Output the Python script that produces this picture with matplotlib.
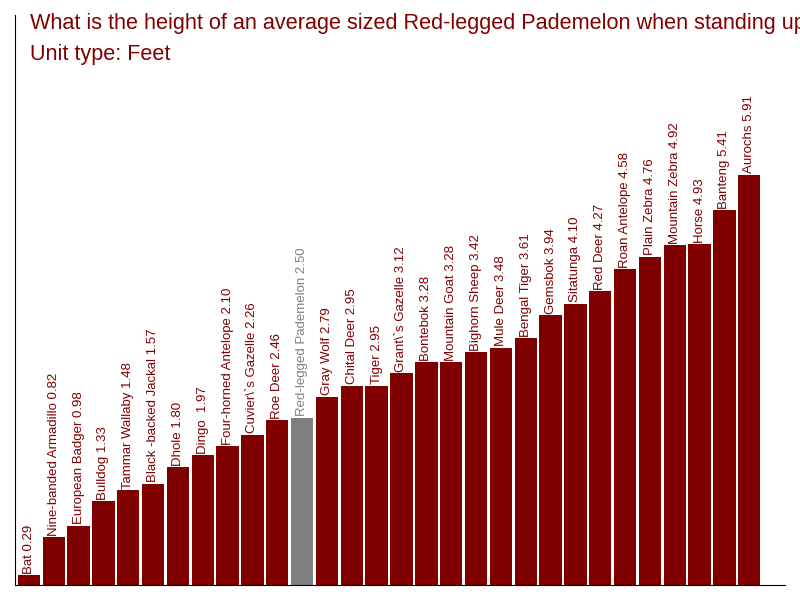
import matplotlib
matplotlib.use("Agg")
import matplotlib.pyplot as plt

plt.rcParams['font.family'] = ['Liberation Sans', 'DejaVu Sans']

animals = ["Bat", "Nine-banded Armadillo", "European Badger", "Bulldog", "Tammar Wallaby",
           "Black -backed Jackal", "Dhole", "Dingo ", "Four-horned Antelope", "Cuvier\\`s Gazelle",
           "Roe Deer", "Red-legged Pademelon", "Gray Wolf", "Chital Deer", "Tiger",
           "Grant\\`s Gazelle", "Bontebok", "Mountain Goat", "Bighorn Sheep", "Mule Deer",
           "Bengal Tiger", "Gemsbok", "Sitatunga", "Red Deer", "Roan Antelope",
           "Plain Zebra", "Mountain Zebra", "Horse", "Banteng", "Aurochs"]
heights = [0.29, 0.82, 0.98, 1.33, 1.48, 1.57, 1.80, 1.97, 2.10, 2.26,
           2.46, 2.50, 2.79, 2.95, 2.95, 3.12, 3.28, 3.28, 3.42, 3.48,
           3.61, 3.94, 4.10, 4.27, 4.58, 4.76, 4.92, 4.93, 5.41, 5.91]
highlight = "Red-legged Pademelon"

maroon = "#800000"
grey = "#808080"

fig = plt.figure(figsize=(8, 6), dpi=100)
ax = fig.add_axes([15/800, 15/600, 770/800, 570/600])

x = list(range(len(animals)))
colors = [grey if a == highlight else maroon for a in animals]
ax.bar(x, heights, width=0.9, color=colors, bottom=0)

for i, (a, h) in enumerate(zip(animals, heights)):
    c = grey if a == highlight else maroon
    ax.text(i, h + 0.02, f"{a} {h:.2f}", rotation=90, ha='center', va='bottom',
            fontsize=9.5, color=c)

ax.set_xlim(-0.56, 30.44)
ax.set_ylim(0.15, 8.15)
ax.set_xticks([])
ax.set_yticks([])
for s in ['top', 'right']:
    ax.spines[s].set_visible(False)
ax.spines['left'].set_color('black')
ax.spines['bottom'].set_color('black')

fig.text(30/800, 1 - 29/600, "What is the height of an average sized Red-legged Pademelon when standing up?",
         fontsize=15.6, color=maroon, ha='left', va='baseline')
fig.text(30/800, 1 - 60/600, "Unit type: Feet", fontsize=15.6, color=maroon, ha='left', va='baseline')

fig.savefig("out.png", dpi=100)
